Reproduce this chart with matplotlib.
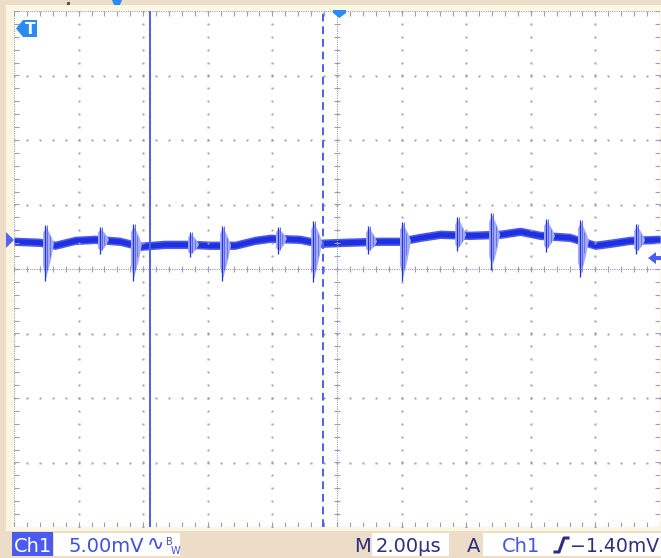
import numpy as np
import matplotlib
matplotlib.use("Agg")
import matplotlib.pyplot as plt
import matplotlib.transforms as mtransforms
from matplotlib.patches import Polygon, Rectangle
from matplotlib.lines import Line2D

# scope settings
volts_per_div = 5.0      # mV/div
time_per_div = 2.0       # us/div
gnd_div = 0.46           # ch1 ground marker, divs above centre
trig_level = -1.40       # mV
cursor_solid = 4.21      # us
cursor_dash = 9.57       # us

# trace baseline (time us, level mV)
base_t = [0.0, 0.80, 1.27, 1.89, 2.51, 3.28, 3.90, 4.67, 5.45, 6.07, 6.84, 7.46,
          7.93, 8.85, 9.47, 10.25, 11.33, 11.95, 12.57, 13.19, 14.12, 15.05,
          15.67, 16.28, 17.21, 17.99, 18.45, 19.07, 20.0]
base_mv = [-0.15, -0.23, -0.46, -0.08, 0.0, -0.15, -0.54, -0.39, -0.39, -0.46,
           -0.46, -0.08, 0.08, 0.0, -0.31, -0.23, -0.15, -0.15, 0.15, 0.39,
           0.31, 0.39, 0.62, 0.31, 0.15, -0.46, -0.31, -0.08, 0.0]

# switching spikes: time, peak up, peak down (mV)
spike_t = [0.96, 2.66, 3.68, 5.45, 6.44, 8.17, 9.26, 10.96, 12.01, 13.72,
           14.77, 16.47, 17.52, 19.26]
spike_up = [1.08, 0.93, 1.16, 0.54, 1.01, 0.93, 1.39, 1.01, 1.32, 1.70,
            2.01, 1.55, 1.47, 1.16]
spike_dn = [-3.25, -1.16, -3.25, -1.39, -3.25, -1.16, -3.33, -1.16, -3.25,
            -0.93, -2.40, -1.01, -2.94, -1.16]

W, H = 661, 558
trace_c = '#1f2fe2'
fuzz_c = '#4d5ce8'
burst_c = '#a3acf5'
grid_c = '#9c9cb8'
beige = '#ecdcc8'
navy = '#2b2f7e'

fig = plt.figure(figsize=(W / 100, H / 100), dpi=100, facecolor=beige)
# pixel coords (y down) -> figure
px = mtransforms.Affine2D().scale(1 / W, -1 / H).translate(0, 1) + fig.transFigure

fig.add_artist(Rectangle((6, 5), W - 6, 526, transform=px, color='#fbf7e2', lw=0, zorder=-5))

ax = fig.add_axes([14 / W, 1 - 527 / H, 646 / W, 516 / H], zorder=2)
ax.set_facecolor('white')
ax.set_xlim(0, 10)
ax.set_ylim(-4, 4)
ax.set_xticks([])
ax.set_yticks([])
for s in ax.spines.values():
    s.set_visible(False)

def to_x(t):
    return np.asarray(t) / time_per_div

def to_y(mv):
    return np.asarray(mv) / volts_per_div + gnd_div

# graticule
xs = np.arange(0, 10.001, 0.2)
ys = np.arange(-4, 4.001, 0.2)
for i in range(1, 10):
    if i != 5:
        ax.plot([i] * len(ys), ys, 's', ms=1.4, mec='none', color=grid_c)
for j in range(-3, 4):
    if j != 0:
        ax.plot(xs, [j] * len(xs), 's', ms=1.4, mec='none', color=grid_c)
dense = dict(color=grid_c, lw=0.8, ls=(0, (1, 1)))
ax.axhline(0, **dense)
ax.axvline(5, **dense)
ax.axhline(-3.995, **dense)
ax.axhline(3.995, **dense)
ax.axvline(0.005, **dense)
ax.axvline(9.995, **dense)
ax.vlines(xs, -0.05, 0.05, color=grid_c, lw=0.8)
ax.hlines(ys, 4.95, 5.05, color=grid_c, lw=0.8)
ax.vlines(xs, 3.93, 4.0, color=grid_c, lw=0.8)
ax.vlines(xs, -4.0, -3.93, color=grid_c, lw=0.8)
ax.hlines(ys, 0, 0.07, color=grid_c, lw=0.8)
ax.hlines(ys, 9.93, 10, color=grid_c, lw=0.8)

# cursors
ax.axvline(to_x(cursor_solid), color='#4c5ff0', lw=1.4)
ax.axvline(to_x(cursor_dash), color='#4c5ff0', lw=1.4, ls=(0, (4, 2.5)))

# trace band: fuzzy edge + dark core
bx = to_x(base_t)
by = to_y(base_mv)
ax.fill_between(bx, by - 0.065, by + 0.065, color=fuzz_c, lw=0)
ax.fill_between(bx, by - 0.04, by + 0.04, color=trace_c, lw=0)

for t, up, dn in zip(spike_t, spike_up, spike_dn):
    x = to_x(t)
    b = to_y(np.interp(t, base_t, base_mv))
    u = to_y(up)
    d = to_y(dn)
    ax.add_patch(Polygon([(x - 0.03, b + 0.6 * (u - b)), (x + 0.02, u - 0.03),
                          (x + 0.09, b + 0.45 * (u - b)), (x + 0.14, b),
                          (x + 0.09, b + 0.45 * (d - b)), (x + 0.02, d + 0.05),
                          (x - 0.03, b + 0.6 * (d - b))],
                         closed=True, color=burst_c, lw=0))
    ax.vlines(x, d, u, color=trace_c, lw=0.9)
    ax.vlines(x + 0.03, b + 0.7 * (d - b), u, color=fuzz_c, lw=0.6)
    ax.vlines(x + 0.07, b + 0.35 * (d - b), b + 0.4 * (u - b), color=fuzz_c, lw=0.5)

# markers
mk = dict(transform=px, lw=0, zorder=5)
fig.add_artist(Polygon([(6, 232), (14, 240), (6, 248)], color='#5566ee', **mk))
ty = 240 - trig_level / volts_per_div * 64.6
fig.add_artist(Polygon([(648, ty), (656, ty - 6), (656, ty - 2), (661, ty - 2),
                        (661, ty + 2), (656, ty + 2), (656, ty + 6)], color='#4a5ef0', **mk))
fig.add_artist(Polygon([(16, 28.5), (23, 20), (37, 20), (37, 37), (23, 37)],
                       color='#2a8cf0', joinstyle='round', **mk))
fig.text(30, 29, 'T', transform=px, color='white', fontsize=11, fontweight='bold',
         ha='center', va='center', zorder=6)
fig.add_artist(Polygon([(333, 10), (346, 10), (346, 13), (339.5, 18), (333, 13)],
                       color='#2a8cf0', **mk))
fig.add_artist(Polygon([(112, 0), (122, 0), (120, 5), (114, 5)], color='#2a8cf0', **mk))
fig.add_artist(Rectangle((67, 2), 3, 3, color='#55557a', **mk))

# status bar
fig.add_artist(Rectangle((12, 532), 41, 24, transform=px, color='#4b5bf0', lw=0))
fig.add_artist(Rectangle((54, 533), 126, 23, transform=px, color='white', lw=0))
fig.add_artist(Rectangle((372, 533), 77, 23, transform=px, color='white', lw=0))
fig.add_artist(Rectangle((483, 533), 180, 23, transform=px, color='white', lw=0))

txt = dict(transform=px, fontsize=14, va='baseline', ha='left')
fig.text(14, 552, 'Ch1', color='white', **txt)
fig.text(69, 552, '5.00mV', color='#3f50e2', **txt)
fig.text(147, 550, '\u223f', transform=px, fontsize=15, color='#3f50e2', va='baseline')
fig.text(166, 545, 'B', transform=px, fontsize=7, color='#3f50e2', va='baseline')
fig.text(171, 554, 'W', transform=px, fontsize=7, color='#3f50e2', va='baseline')
fig.text(354, 552, 'M', color=navy, **txt)
fig.text(376, 552, '2.00\u00b5s', color=navy, **txt)
fig.text(467, 552, 'A', color=navy, **txt)
fig.text(502, 552, 'Ch1', color='#4455ee', **txt)
fig.add_artist(Line2D([555, 559, 564, 568], [552, 552, 538, 538], transform=px,
                      color=navy, lw=2.2, solid_joinstyle='round'))
fig.text(570, 552, '\u22121.40mV', color=navy, transform=px, fontsize=13.6,
         va='baseline', ha='left')

fig.savefig('out.png', dpi=100, facecolor=beige)
